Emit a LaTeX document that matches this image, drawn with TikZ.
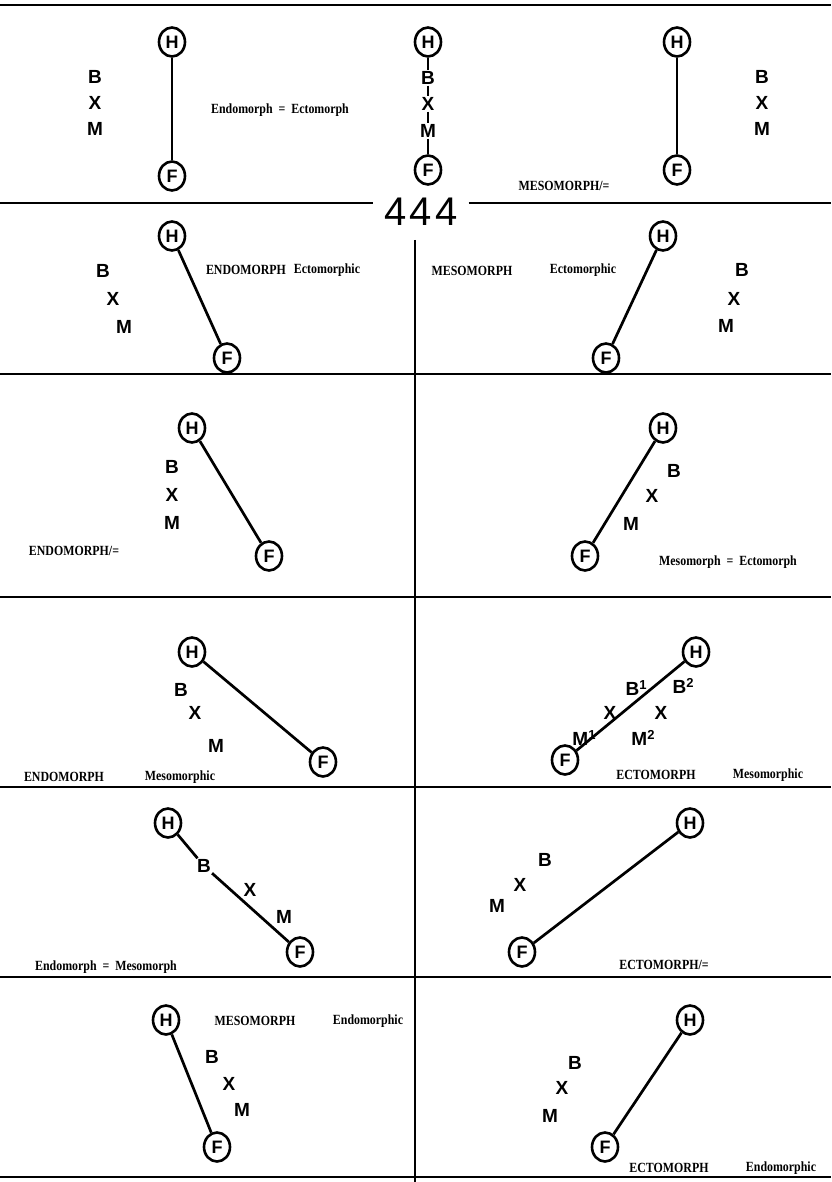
\documentclass[tikz,border=0pt]{standalone}
\usepackage{fontspec}
\setmainfont{Liberation Serif}
\newfontfamily\letfont{Liberation Sans}
\newfontfamily\labfont[FakeStretch=0.85]{Liberation Serif}
\usetikzlibrary{shapes.geometric}
\newcommand{\supr}[1]{\raisebox{6pt}{\fontsize{13}{13}\selectfont #1}}
\begin{document}
\begin{tikzpicture}[x=1pt,y=-1pt,
  ring/.style={draw,ellipse,line width=2.6pt,minimum width=26pt,minimum height=29pt,inner sep=0pt,
    font=\letfont\bfseries\fontsize{18}{18}\selectfont},
  lett/.style={inner sep=1pt,font=\letfont\bfseries\fontsize{19}{19}\selectfont},
  lab/.style={inner sep=0pt,font=\labfont\bfseries\fontsize{14}{14}\selectfont},
  link/.style={line width=2.7pt},
  thinlink/.style={line width=1.8pt},
  rule/.style={line width=2.6pt}]
\useasboundingbox (0,0) rectangle (831,1182);
\fill[white] (0,0) rectangle (831,1182);
% frame lines
\coordinate (t0) at (0,5); \coordinate (t1) at (831,5);
\draw[rule] (t0) -- (t1);
\node[inner ysep=0pt,inner xsep=11pt,font=\letfont\fontsize{40}{40}\selectfont] (num) at (421,212) {4\kern3pt 4\kern3pt 4};
\coordinate (a0) at (0,203); \coordinate (a1) at (831,203);
\draw[rule] (a0) -- (num.west |- a0);
\draw[rule] (num.east |- a1) -- (a1);
\foreach \yy/\nm in {374/b,597/c,787/d,977/e,1177/f}{
  \coordinate (\nm0) at (0,\yy); \coordinate (\nm1) at (831,\yy);
  \draw[rule] (\nm0) -- (\nm1);
}
\coordinate (v0) at (415,240); \coordinate (v1) at (415,1182);
\draw[rule] (v0) -- (v1);

% ---------- row 1
\node[ring] (h1a) at (172,42) {H};
\node[ring] (f1a) at (172,176) {F};
\draw[link] (h1a) -- (f1a);
\node[lett] (b1a) at (95,77) {B};
\node[lett] (x1a) at (95,103) {X};
\node[lett] (m1a) at (95,129) {M};
\node[lab] (l1a) at (280,110) {Endomorph \ = \ Ectomorph};
\node[ring] (h1b) at (428,42) {H};
\node[lett] (b1b) at (428,78) {B};
\node[lett] (x1b) at (428,104) {X};
\node[lett] (m1b) at (428,131) {M};
\node[ring] (f1b) at (428,170) {F};
\draw[thinlink] (h1b) -- (b1b) (b1b) -- (x1b) (x1b) -- (m1b) (m1b) -- (f1b);
\node[ring] (h1c) at (677,42) {H};
\node[ring] (f1c) at (677,170) {F};
\draw[link] (h1c) -- (f1c);
\node[lett] (b1c) at (762,77) {B};
\node[lett] (x1c) at (762,103) {X};
\node[lett] (m1c) at (762,129) {M};
\node[lab] (l1c) at (564,186) {MESOMORPH/=};

% ---------- row 2
\node[ring] (h2a) at (172,236) {H};
\node[ring] (f2a) at (227,358) {F};
\draw[link] (h2a) -- (f2a);
\node[lett] (b2a) at (103,271) {B};
\node[lett] (x2a) at (113,299) {X};
\node[lett] (m2a) at (124,327) {M};
\node[lab] (l2a) at (246,270) {ENDOMORPH};
\node[lab] (l2b) at (327,270) {Ectomorphic};
\node[lab] (l2c) at (472,271) {MESOMORPH};
\node[lab] (l2d) at (583,270) {Ectomorphic};
\node[ring] (h2b) at (663,236) {H};
\node[ring] (f2b) at (606,358) {F};
\draw[link] (h2b) -- (f2b);
\node[lett] (b2b) at (742,270) {B};
\node[lett] (x2b) at (734,299) {X};
\node[lett] (m2b) at (726,326) {M};

% ---------- row 3
\node[ring] (h3a) at (192,428) {H};
\node[ring] (f3a) at (269,556) {F};
\draw[link] (h3a) -- (f3a);
\node[lett] (b3a) at (172,467) {B};
\node[lett] (x3a) at (172,495) {X};
\node[lett] (m3a) at (172,523) {M};
\node[lab] (l3a) at (74,551) {ENDOMORPH/=};
\node[ring] (h3b) at (663,428) {H};
\node[ring] (f3b) at (585,556) {F};
\draw[link] (h3b) -- (f3b);
\node[lett] (b3b) at (674,471) {B};
\node[lett] (x3b) at (652,496) {X};
\node[lett] (m3b) at (631,524) {M};
\node[lab] (l3b) at (728,562) {Mesomorph \ = \ Ectomorph};

% ---------- row 4
\node[ring] (h4a) at (192,652) {H};
\node[ring] (f4a) at (323,762) {F};
\draw[link] (h4a) -- (f4a);
\node[lett] (b4a) at (181,690) {B};
\node[lett] (x4a) at (195,713) {X};
\node[lett] (m4a) at (216,746) {M};
\node[lab] (l4a) at (64,777) {ENDOMORPH};
\node[lab] (l4b) at (180,777) {Mesomorphic};
\node[ring] (h4b) at (696,652) {H};
\node[ring] (f4b) at (565,760) {F};
\draw[link] (h4b) -- (f4b);
\node[lett] (b4b) at (636,688) {B\supr{1}};
\node[lett] (b4c) at (683,686) {B\supr{2}};
\node[lett] (x4b) at (610,713) {X};
\node[lett] (x4c) at (661,713) {X};
\node[lett] (m4b) at (584,738) {M\supr{1}};
\node[lett] (m4c) at (643,738) {M\supr{2}};
\node[lab] (l4c) at (656,775) {ECTOMORPH};
\node[lab] (l4d) at (768,775) {Mesomorphic};

% ---------- row 5
\node[ring] (h5a) at (168,823) {H};
\node[lett] (b5a) at (204,866) {B};
\node[lett] (x5a) at (250,890) {X};
\node[lett] (m5a) at (284,917) {M};
\node[ring] (f5a) at (300,952) {F};
\draw[link] (h5a) -- (b5a) (b5a) -- (f5a);
\node[lab] (l5a) at (106,967) {Endomorph \ = \ Mesomorph};
\node[ring] (h5b) at (690,823) {H};
\node[ring] (f5b) at (522,952) {F};
\draw[link] (h5b) -- (f5b);
\node[lett] (b5b) at (545,860) {B};
\node[lett] (x5b) at (520,885) {X};
\node[lett] (m5b) at (497,906) {M};
\node[lab] (l5b) at (664,965) {ECTOMORPH/=};

% ---------- row 6
\node[ring] (h6a) at (166,1020) {H};
\node[ring] (f6a) at (217,1147) {F};
\draw[link] (h6a) -- (f6a);
\node[lett] (b6a) at (212,1057) {B};
\node[lett] (x6a) at (229,1084) {X};
\node[lett] (m6a) at (242,1110) {M};
\node[lab] (l6a) at (255,1021) {MESOMORPH};
\node[lab] (l6b) at (368,1021) {Endomorphic};
\node[ring] (h6b) at (690,1020) {H};
\node[ring] (f6b) at (605,1147) {F};
\draw[link] (h6b) -- (f6b);
\node[lett] (b6b) at (575,1063) {B};
\node[lett] (x6b) at (562,1088) {X};
\node[lett] (m6b) at (550,1116) {M};
\node[lab] (l6c) at (669,1168) {ECTOMORPH};
\node[lab] (l6d) at (781,1168) {Endomorphic};
\end{tikzpicture}
\end{document}
